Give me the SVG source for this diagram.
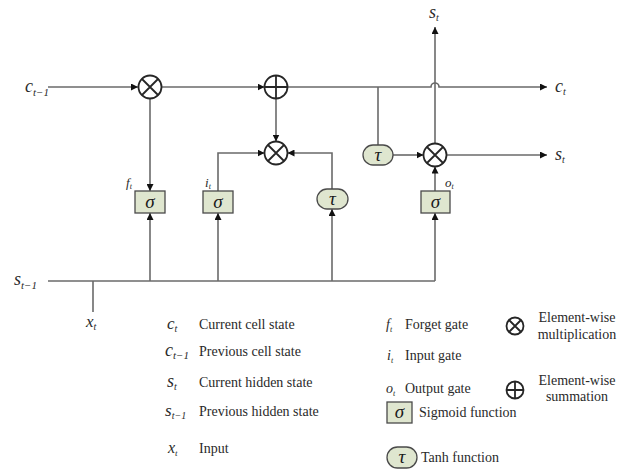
<svg xmlns="http://www.w3.org/2000/svg" width="632" height="472" viewBox="0 0 632 472">
<style>
.ln{stroke:#6a6a6a;stroke-width:1.6;fill:none}
.op{fill:#fff;stroke:#262626;stroke-width:1.8}
.opx{stroke:#262626;stroke-width:1.8;fill:none}
.sig{fill:#dfe6cf;stroke:#4a4a4a;stroke-width:1.3}
.lab{font-style:italic;fill:#2a2a2a}
.sym{font-style:italic;fill:#1a1a1a;font-size:19px;text-anchor:middle}
.leg{fill:#2a2a2a;font-size:14px}
</style>
<defs>
<marker id="ah" viewBox="0 0 10 10" refX="10" refY="5" markerWidth="7" markerHeight="7" markerUnits="userSpaceOnUse" orient="auto">
<path d="M0,0 L10,5 L0,10 z" fill="#111"/>
</marker>
</defs>
<rect width="632" height="472" fill="#fff"/>

<g id="connectors">
<path class="ln" d="M48,87 H138" marker-end="url(#ah)"/>
<path class="ln" d="M161.5,87 H264.5" marker-end="url(#ah)"/>
<path class="ln" d="M287.5,87 H431 A4,4 0 0 1 439,87 H547" marker-end="url(#ah)"/>
<path class="ln" d="M150,98.5 V191" marker-end="url(#ah)"/>
<path class="ln" d="M150,281 V213" marker-end="url(#ah)"/>
<path class="ln" d="M218,281 V213" marker-end="url(#ah)"/>
<path class="ln" d="M218,191 V153 H264.5" marker-end="url(#ah)"/>
<path class="ln" d="M276,98.5 V141.5" marker-end="url(#ah)"/>
<path class="ln" d="M332,281 V209" marker-end="url(#ah)"/>
<path class="ln" d="M332,189 V153 H287.5" marker-end="url(#ah)"/>
<path class="ln" d="M378,87 V145"/>
<path class="ln" d="M393,155 H423.5" marker-end="url(#ah)"/>
<path class="ln" d="M446.5,155 H547" marker-end="url(#ah)"/>
<path class="ln" d="M435,143.5 V27" marker-end="url(#ah)"/>
<path class="ln" d="M435,191 V166.5" marker-end="url(#ah)"/>
<path class="ln" d="M435,281 V213" marker-end="url(#ah)"/>
<path class="ln" d="M48,281 H435"/>
<path class="ln" d="M93,281 V312"/>
</g>

<g font-family="'Liberation Serif', 'Times New Roman', 'DejaVu Serif', serif">
<g id="mul-forget">
<circle class="op" cx="150" cy="87" r="11.5"/>
<path class="opx" d="M142,79 L158,95 M158,79 L142,95"/>
</g>
<g id="add-cell">
<circle class="op" cx="276" cy="87" r="11.5"/>
<path class="opx" d="M264.5,87 H287.5 M276,75.5 V98.5"/>
</g>
<g id="mul-input">
<circle class="op" cx="276" cy="153" r="11.5"/>
<path class="opx" d="M268,145 L284,161 M284,145 L268,161"/>
</g>
<g id="mul-output">
<circle class="op" cx="435" cy="155" r="11.5"/>
<path class="opx" d="M427,147 L443,163 M443,147 L427,163"/>
</g>

<g id="sigma-forget">
<rect class="sig" x="135" y="191" width="30" height="22"/>
<text class="sym" x="150" y="208">σ</text>
<text class="lab" x="126" y="187" font-size="13">f<tspan font-size="8" dy="2">t</tspan></text>
</g>
<g id="sigma-input">
<rect class="sig" x="203" y="191" width="30" height="22"/>
<text class="sym" x="218" y="208">σ</text>
<text class="lab" x="205" y="187" font-size="13">i<tspan font-size="8" dy="2">t</tspan></text>
</g>
<g id="tanh-input">
<rect class="sig" x="317" y="189" width="31" height="20" rx="10"/>
<text class="sym" x="332.5" y="205">τ</text>
</g>
<g id="tanh-cell">
<rect class="sig" x="363" y="145" width="30" height="20" rx="10"/>
<text class="sym" x="378" y="161">τ</text>
</g>
<g id="sigma-output">
<rect class="sig" x="421" y="191" width="29" height="22"/>
<text class="sym" x="435.5" y="208">σ</text>
<text class="lab" x="445" y="187" font-size="13">o<tspan font-size="8" dy="2">t</tspan></text>
</g>

<g id="labels">
<text class="lab" x="25" y="92" font-size="18">c<tspan font-size="11" dy="4">t−1</tspan></text>
<text class="lab" x="555" y="92" font-size="18">c<tspan font-size="10" dy="3">t</tspan></text>
<text class="lab" x="555" y="160" font-size="18">s<tspan font-size="10" dy="3">t</tspan></text>
<text class="lab" x="429" y="18" font-size="18">s<tspan font-size="10" dy="3">t</tspan></text>
<text class="lab" x="14" y="285" font-size="18">s<tspan font-size="11" dy="4">t−1</tspan></text>
<text class="lab" x="86" y="327" font-size="17">x<tspan font-size="10" dy="3">t</tspan></text>
</g>

<g id="legend">
<text class="lab" x="167" y="329" font-size="17">c<tspan font-size="10" dy="3">t</tspan></text>
<text class="leg" x="199" y="329">Current cell state</text>
<text class="lab" x="165" y="356" font-size="18">c<tspan font-size="11" dy="3">t−1</tspan></text>
<text class="leg" x="199" y="356">Previous  cell state</text>
<text class="lab" x="167" y="387" font-size="18">s<tspan font-size="10" dy="3">t</tspan></text>
<text class="leg" x="199" y="387">Current hidden state</text>
<text class="lab" x="165" y="416" font-size="17">s<tspan font-size="10" dy="3">t−1</tspan></text>
<text class="leg" x="199" y="416">Previous hidden state</text>
<text class="lab" x="168" y="453" font-size="16">x<tspan font-size="9" dy="3">t</tspan></text>
<text class="leg" x="199" y="453">Input</text>

<text class="lab" x="386" y="329" font-size="14">f<tspan font-size="8" dy="3">t</tspan></text>
<text class="leg" x="405" y="329">Forget gate</text>
<text class="lab" x="387" y="360" font-size="14">i<tspan font-size="8" dy="3">t</tspan></text>
<text class="leg" x="405" y="360">Input gate</text>
<text class="lab" x="386" y="393" font-size="14">o<tspan font-size="8" dy="3">t</tspan></text>
<text class="leg" x="405" y="393">Output gate</text>
<rect class="sig" x="387" y="402" width="25" height="21"/>
<text class="sym" x="399.5" y="418" font-size="18">σ</text>
<text class="leg" x="419" y="417">Sigmoid function</text>
<rect class="sig" x="387" y="447" width="30" height="21" rx="10.5"/>
<text class="sym" x="402" y="463" font-size="18">τ</text>
<text class="leg" x="421" y="462">Tanh function</text>

<circle class="op" cx="515" cy="326" r="8.5"/>
<path class="opx" d="M509,320 L521,332 M521,320 L509,332" stroke-width="1.5"/>
<text class="leg" x="577" y="322" text-anchor="middle">Element-wise</text>
<text class="leg" x="577" y="339" text-anchor="middle">multiplication</text>
<circle class="op" cx="515" cy="390" r="8.5"/>
<path class="opx" d="M506.5,390 H523.5 M515,381.5 V398.5" stroke-width="1.5"/>
<text class="leg" x="577" y="385" text-anchor="middle">Element-wise</text>
<text class="leg" x="577" y="401" text-anchor="middle">summation</text>
</g>
</g>
</svg>
